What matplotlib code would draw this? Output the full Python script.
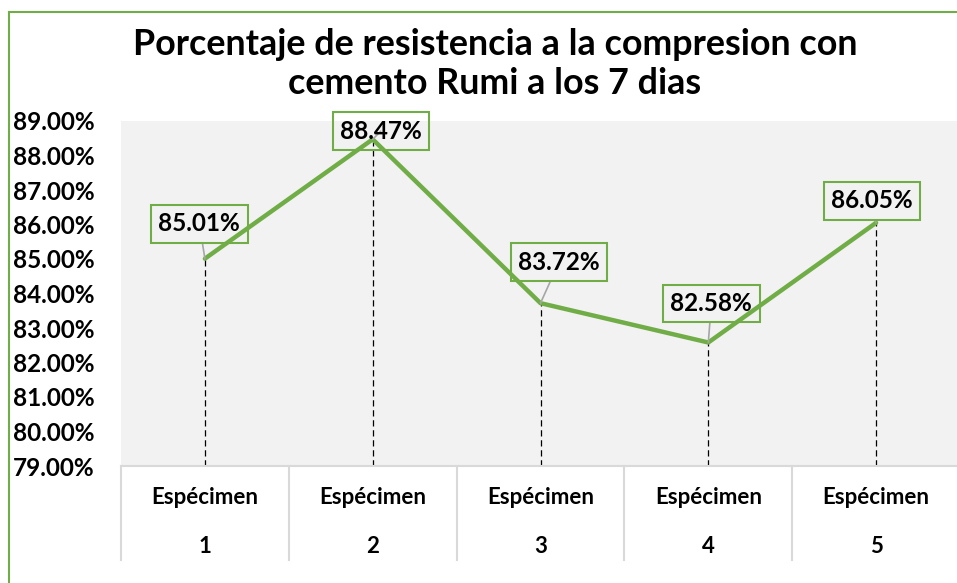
import matplotlib
matplotlib.use("Agg")
import matplotlib.pyplot as plt
from matplotlib.lines import Line2D

plt.rcParams['font.family'] = ['Lato', 'DejaVu Sans']

title = "Porcentaje de resistencia a la compresion con\ncemento Rumi a los 7 dias"
categories = ["Espécimen\n1", "Espécimen\n2", "Espécimen\n3", "Espécimen\n4", "Espécimen\n5"]
values = [85.01, 88.47, 83.72, 82.58, 86.05]
yticks = [79, 80, 81, 82, 83, 84, 85, 86, 87, 88, 89]
ytick_labels = [f"{v:.2f}%" for v in yticks]
# label offsets (points) relative to each point -- layout only
label_offsets = [(-4, 25), (5.8, 5.8), (13.3, 29.5), (2.2, 28), (-2.9, 15.8)]

GREEN = "#70ad47"
W, H = 957, 583
fig = plt.figure(figsize=(W / 100, H / 100), dpi=100)
fig.patch.set_facecolor("white")

left, right, top, bottom = 121, 960, 121, 466
ax = fig.add_axes([left / W, (H - bottom) / H, (right - left) / W, (bottom - top) / H])
ax.set_facecolor("#f2f2f2")

x = list(range(1, len(values) + 1))
ax.set_xlim(0.5, len(values) + 0.5)
ax.set_ylim(79, 89)

# drop lines
ax.vlines(x, 79, values, colors="black", linestyles=(0, (5, 3)), linewidth=0.9, zorder=2)
ax.plot(x, values, color=GREEN, linewidth=3.2, solid_capstyle="round", zorder=3)

for xi, v, off in zip(x, values, label_offsets):
    ax.annotate(f"{v:.2f}%", xy=(xi, v), xytext=off, textcoords="offset points",
                ha="center", va="center", fontsize=17.5, fontweight="bold", color="black",
                bbox=dict(boxstyle="square,pad=0.3", fc="none", ec=GREEN, lw=1.5),
                arrowprops=dict(arrowstyle="-", color="#a6a6a6", lw=1.2, shrinkA=0, shrinkB=0),
                zorder=4)

for s in ["top", "right", "left"]:
    ax.spines[s].set_visible(False)
ax.spines["bottom"].set_color("#d9d9d9")
ax.spines["bottom"].set_linewidth(1.5)

ax.set_yticks(yticks)
ax.set_yticklabels(ytick_labels, fontsize=17.5, fontweight="bold", color="black")
ax.tick_params(axis="y", length=0, pad=(left - 13) * 0.72)
for lab in ax.get_yticklabels():
    lab.set_horizontalalignment("left")

ax.set_xticks(x)
ax.set_xticklabels(categories, fontsize=16, fontweight="bold", color="black", linespacing=2.67)
ax.tick_params(axis="x", length=0, pad=15)

# category separators below the axis
sep_len = (560 - bottom) / (bottom - top)
for xs in [i + 0.5 for i in range(0, len(values) + 1)]:
    ax.plot([xs, xs], [0, -sep_len], transform=ax.get_xaxis_transform(),
            color="#d9d9d9", linewidth=1.5, clip_on=False)

fig.text(495 / W, 1 - 64 / H, title, ha="center", va="center", fontsize=25.8,
         fontweight="bold", color="black", linespacing=1.24)

# chart border (green)
fig.add_artist(Line2D([9 / W, 9 / W], [0, 1 - 12 / H], color=GREEN, lw=1.5, transform=fig.transFigure))
fig.add_artist(Line2D([9 / W, 1], [1 - 12 / H, 1 - 12 / H], color=GREEN, lw=1.5, transform=fig.transFigure))

fig.savefig("out.png", dpi=100)
